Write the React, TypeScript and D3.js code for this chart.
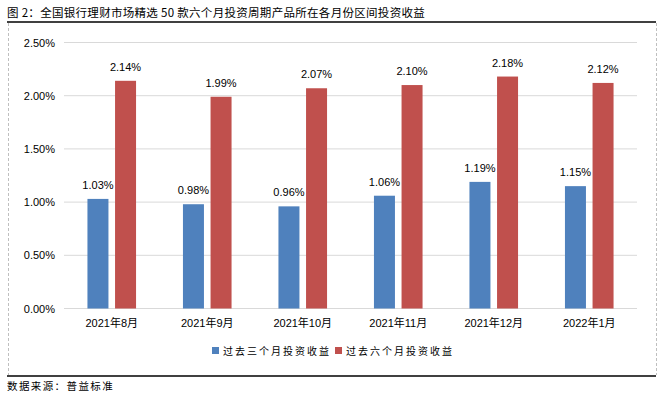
import React, { useEffect, useRef } from 'react';
import * as d3 from 'd3';

const categories = ['2021年8月', '2021年9月', '2021年10月', '2021年11月', '2021年12月', '2022年1月'];
const threeMonth = [1.03, 0.98, 0.96, 1.06, 1.19, 1.15];
const sixMonth = [2.14, 1.99, 2.07, 2.1, 2.18, 2.12];
const yTicks = [0, 0.5, 1, 1.5, 2, 2.5];
const seriesNames = ['过去三个月投资收益', '过去六个月投资收益'];
const seriesColors = ['#4F81BD', '#C0504D'];

const width = 662;
const height = 394;

const App = () => {
  const ref = useRef<SVGSVGElement | null>(null);

  useEffect(() => {
    const svg = d3.select(ref.current);
    svg.selectAll('*').remove();

    const sans = "'Liberation Sans', Arial, 'Noto Sans CJK SC', sans-serif";
    const cjk = "'Noto Sans CJK SC', sans-serif";

    // title + frame lines
    svg.append('text')
      .attr('x', 7).attr('y', 17)
      .attr('font-family', cjk).attr('font-size', 11.5).attr('letter-spacing', 0.3)
      .attr('fill', '#000')
      .text('图 2：全国银行理财市场精选 50 款六个月投资周期产品所在各月份区间投资收益');

    svg.append('line').attr('x1', 7).attr('x2', 656).attr('y1', 22).attr('y2', 22)
      .attr('stroke', '#000').attr('stroke-width', 1.5);
    svg.append('line').attr('x1', 7).attr('x2', 656).attr('y1', 376).attr('y2', 376)
      .attr('stroke', '#000').attr('stroke-width', 1.5);

    // dashed chart border
    [8.5, 656.5].forEach(x => {
      svg.append('line').attr('x1', x).attr('x2', x).attr('y1', 23).attr('y2', 375)
        .attr('stroke', '#BFBFBF').attr('stroke-width', 1).attr('stroke-dasharray', '3,2');
    });

    svg.append('text')
      .attr('x', 7).attr('y', 390)
      .attr('font-family', cjk).attr('font-size', 10.5).attr('letter-spacing', 1.4)
      .attr('fill', '#000')
      .text('数据来源：普益标准');

    // scales
    const x = d3.scaleBand<string>().domain(categories).range([64, 637]).padding(0);
    const y = d3.scaleLinear().domain([0, 2.5]).range([308.5, 42.5]);
    const barW = 21;
    const gap = 6.6;

    const g = svg.append('g');

    // gridlines
    g.selectAll('.grid')
      .data(yTicks)
      .enter().append('line')
      .attr('x1', 64).attr('x2', 637)
      .attr('y1', d => y(d)).attr('y2', d => y(d))
      .attr('stroke', '#D9D9D9').attr('stroke-width', 1);

    // y labels
    g.selectAll('.ylab')
      .data(yTicks)
      .enter().append('text')
      .attr('x', 55).attr('y', d => y(d) + 4)
      .attr('text-anchor', 'end')
      .attr('font-family', sans).attr('font-size', 11).attr('fill', '#000')
      .text(d => d.toFixed(2) + '%');

    const series = [threeMonth, sixMonth];
    series.forEach((vals, si) => {
      const xOf = (i: number) => {
        const c = (x(categories[i]) as number) + x.bandwidth() / 2;
        return si === 0 ? c - gap / 2 - barW : c + gap / 2;
      };
      g.selectAll('.bar' + si)
        .data(vals)
        .enter().append('rect')
        .attr('x', (d, i) => xOf(i))
        .attr('width', barW)
        .attr('y', d => y(d))
        .attr('height', d => y(0) - y(d))
        .attr('fill', seriesColors[si]);

      g.selectAll('.lab' + si)
        .data(vals)
        .enter().append('text')
        .attr('x', (d, i) => xOf(i) + barW / 2)
        .attr('y', d => y(d) - 10)
        .attr('text-anchor', 'middle')
        .attr('font-family', sans).attr('font-size', 11).attr('fill', '#000')
        .text(d => d.toFixed(2) + '%');
    });

    // x labels
    g.selectAll('.xlab')
      .data(categories)
      .enter().append('text')
      .attr('x', d => (x(d) as number) + x.bandwidth() / 2)
      .attr('y', 327)
      .attr('text-anchor', 'middle')
      .attr('font-family', sans).attr('font-size', 11).attr('fill', '#000')
      .text(d => d);

    // legend
    const legend = svg.append('g');
    const legendX = [212, 335];
    seriesNames.forEach((name, i) => {
      legend.append('rect')
        .attr('x', legendX[i]).attr('y', 347).attr('width', 7).attr('height', 7)
        .attr('fill', seriesColors[i]);
      legend.append('text')
        .attr('x', legendX[i] + 11).attr('y', 355)
        .attr('font-family', cjk).attr('font-size', 10).attr('letter-spacing', 2)
        .attr('fill', '#000')
        .text(name);
    });
  }, []);

  return (
    <svg ref={ref} width={width} height={height}
      style={{ position: 'absolute', left: 0, top: 0, background: '#fff' }} />
  );
};

export default App;
